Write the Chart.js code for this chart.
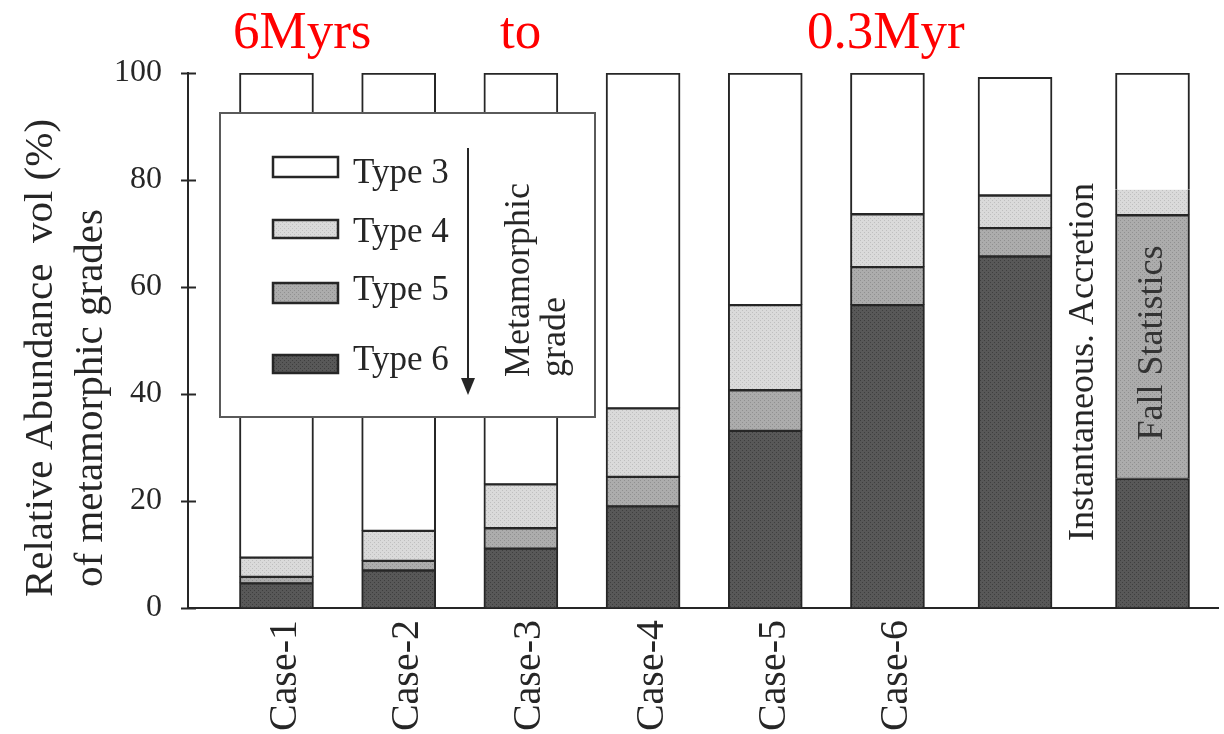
<!DOCTYPE html>
<html>
<head>
<meta charset="utf-8">
<script src="https://cdn.jsdelivr.net/npm/chart.js@4.4.1/dist/chart.umd.min.js"></script>
<style>
  html, body { margin: 0; padding: 0; background: #fff; }
  #wrap { width: 1224px; height: 734px; position: relative; }
</style>
</head>
<body>
<div id="wrap"><canvas id="c" width="1224" height="734"></canvas></div>
<script>
// ---- data ----
const categories = ['Case-1', 'Case-2', 'Case-3', 'Case-4', 'Case-5', 'Case-6',
                    'Instantaneous. Accretion', 'Fall Statistics'];
const caseLabels = ['Case-1', 'Case-2', 'Case-3', 'Case-4', 'Case-5', 'Case-6'];
const type6 = [4.7, 7.1, 11.2, 19.1, 33.2, 56.7, 65.8, 24.2];
const type5 = [1.2, 1.8, 3.8, 5.5, 7.6, 7.1, 5.3, 49.3];
const type4 = [3.6, 5.6, 8.2, 12.8, 15.9, 9.9, 6.1, 4.7];
const type3 = [90.5, 85.5, 76.8, 62.6, 43.3, 26.3, 22.0, 21.8];
const seriesNames = ['Type 6', 'Type 5', 'Type 4', 'Type 3'];
const yTicks = [0, 20, 40, 60, 80, 100];
const timeLabels = ['6Myrs', 'to', '0.3Myr'];

// ---- layout ----
// column centres along the x scale (the last two columns sit a little apart)
const columnSlot = [1, 2, 3, 4, 5, 6, 7.044, 8.169];
const SERIF = "'Liberation Serif', 'Times New Roman', serif";
const INK = '#262626';

function stipple(base, dot) {
  const c = document.createElement('canvas');
  c.width = 4; c.height = 4;
  const g = c.getContext('2d');
  g.fillStyle = base; g.fillRect(0, 0, 4, 4);
  g.fillStyle = dot; g.fillRect(0, 0, 1, 1); g.fillRect(2, 2, 1, 1);
  return g.createPattern(c, 'repeat');
}
const fills = [
  stipple('#585858', '#3e3e3e'),
  stipple('#acacac', '#909090'),
  stipple('#dadada', '#bfbfbf'),
  '#ffffff'
];
const values = [type6, type5, type4, type3];

const datasets = seriesNames.map((name, k) => ({
  label: name,
  data: values[k].map((v, i) => ({ x: columnSlot[i], y: v })),
  backgroundColor: fills[k],
  borderColor: INK,
  borderSkipped: false,
  borderWidth: (ctx) => {
    const w = { top: 2, right: 2, bottom: 1, left: 2 };
    // the fall-statistics column has no seam between Type 3 and Type 4
    if (ctx.dataIndex === 7 && name === 'Type 3') w.bottom = 0;
    if (ctx.dataIndex === 7 && name === 'Type 4') w.top = 0;
    return w;
  },
  barThickness: 74,
  stack: 'grades'
}));

function rotText(ctx, text, bx, cy, align) {
  ctx.save();
  ctx.translate(bx, cy);
  ctx.rotate(-Math.PI / 2);
  ctx.textAlign = align || 'center';
  ctx.textBaseline = 'alphabetic';
  ctx.fillText(text, 0, 0);
  ctx.restore();
}

const decorations = {
  id: 'decorations',
  beforeDraw(chart) {
    const ctx = chart.ctx;
    ctx.save();
    ctx.fillStyle = '#ffffff';
    ctx.fillRect(0, 0, chart.width, chart.height);
    // time span across the top
    ctx.fillStyle = '#ff0000';
    ctx.font = '53px ' + SERIF;
    ctx.textAlign = 'left';
    ctx.textBaseline = 'alphabetic';
    const tx = [233, 500, 807];
    timeLabels.forEach((t, i) => ctx.fillText(t, tx[i], 48));
    // y axis title, two lines
    ctx.fillStyle = INK;
    ctx.font = '41px ' + SERIF;
    rotText(ctx, 'Relative Abundance  vol (%)', 52, 358);
    rotText(ctx, 'of metamorphic grades', 102, 398);
    ctx.restore();
  },
  afterDatasetsDraw(chart) {
    const ctx = chart.ctx;
    const ys = chart.scales.y;
    const left = chart.chartArea.left;
    ctx.save();
    // tick marks crossing the y axis
    ctx.strokeStyle = INK;
    ctx.lineWidth = 2;
    ys.ticks.forEach(t => {
      const py = Math.round(ys.getPixelForValue(t.value)) + 0.5;
      ctx.beginPath();
      ctx.moveTo(left - 7, py);
      ctx.lineTo(left + 8, py);
      ctx.stroke();
    });

    // column annotations
    ctx.font = '36px ' + SERIF;
    ctx.fillStyle = INK;
    rotText(ctx, categories[6], 1093, 362);
    ctx.fillStyle = '#333333';
    rotText(ctx, categories[7], 1162, 343);

    // legend panel
    ctx.fillStyle = '#ffffff';
    ctx.fillRect(220, 113, 375, 304);
    ctx.strokeStyle = '#5a5a5a';
    ctx.lineWidth = 2;
    ctx.strokeRect(220, 113, 375, 304);
    const sw = [[157, 20], [220, 18], [283, 20], [355, 18]];
    const base = [183, 242, 300, 370];
    const ds = chart.data.datasets.slice().reverse();
    ctx.font = '35px ' + SERIF;
    ctx.textAlign = 'left';
    ctx.textBaseline = 'alphabetic';
    ds.forEach((d, i) => {
      ctx.fillStyle = d.backgroundColor;
      ctx.fillRect(273, sw[i][0], 65, sw[i][1]);
      ctx.strokeStyle = INK;
      ctx.lineWidth = 2.5;
      ctx.strokeRect(273, sw[i][0], 65, sw[i][1]);
      ctx.fillStyle = INK;
      ctx.fillText(d.label, 353, base[i]);
    });
    // grade arrow
    ctx.strokeStyle = INK;
    ctx.lineWidth = 2;
    ctx.beginPath();
    ctx.moveTo(468, 148);
    ctx.lineTo(468, 382);
    ctx.stroke();
    ctx.fillStyle = INK;
    ctx.beginPath();
    ctx.moveTo(461, 378);
    ctx.lineTo(475, 378);
    ctx.lineTo(468, 395);
    ctx.closePath();
    ctx.fill();
    ctx.font = '36px ' + SERIF;
    rotText(ctx, 'Metamorphic', 529, 377, 'left');
    rotText(ctx, 'grade', 565, 377, 'left');
    ctx.restore();
  }
};

new Chart(document.getElementById('c'), {
  type: 'bar',
  data: { datasets },
  plugins: [decorations],
  options: {
    responsive: false,
    animation: false,
    layout: { padding: { top: 73, right: 6, bottom: 0, left: 0 } },
    plugins: { legend: { display: false }, tooltip: { enabled: false } },
    scales: {
      x: {
        type: 'linear',
        stacked: true,
        offset: false,
        min: 0.276,
        max: 8.705,
        afterFit: (s) => { s.height = 126; },
        afterBuildTicks: (s) => { s.ticks = caseLabels.map((_, i) => ({ value: columnSlot[i] })); },
        grid: { display: false, drawTicks: false },
        border: { display: true, color: INK, width: 2 },
        ticks: {
          autoSkip: false,
          minRotation: 90,
          maxRotation: 90,
          padding: 12,
          labelOffset: 9,
          color: INK,
          font: { family: SERIF, size: 40 },
          callback: (v) => {
            const i = columnSlot.indexOf(v);
            return i >= 0 && i < caseLabels.length ? caseLabels[i] : '';
          }
        }
      },
      y: {
        stacked: true,
        min: 0,
        max: 100,
        afterFit: (s) => { s.width = 188; },
        afterBuildTicks: (s) => { s.ticks = yTicks.map(v => ({ value: v })); },
        grid: { display: false, drawTicks: false },
        border: { display: true, color: INK, width: 2 },
        ticks: {
          padding: 26,
          color: INK,
          font: { family: SERIF, size: 32 }
        }
      }
    }
  }
});
</script>
</body>
</html>
